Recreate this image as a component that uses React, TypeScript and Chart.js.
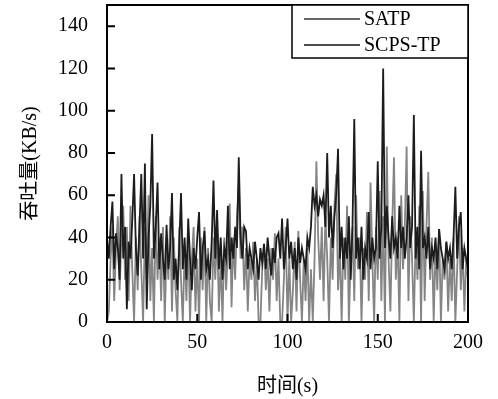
import React, { useEffect, useRef } from "react";
import { Chart, registerables } from "chart.js";

Chart.register(...registerables);

const seriesNames = ["SATP", "SCPS-TP"];
const xTicks = [0, 50, 100, 150, 200];
const yTicks = [0, 20, 40, 60, 80, 100, 120, 140];

const satp = [
  0, 5, 30, 45, 10, 35, 50, 15, 40, 55,
  20, 45, 10, 55, 25, 0, 40, 15, 50, 25,
  0, 45, 20, 60, 10, 35, 0, 50, 20, 40,
  10, 45, 0, 35, 20, 50, 5, 40, 15, 0,
  45, 20, 0, 35, 10, 40, 0, 30, 45, 5,
  30, 0, 40, 15, 45, 0, 35, 10, 0, 40,
  20, 45, 5, 30, 0, 40, 15, 35, 56, 7,
  40, 20, 50, 65, 30, 45, 15, 35, 5, 30,
  20, 38, 10, 30, 0, 0, 25, 37, 15, 30,
  5, 35, 20, 42, 10, 30, 0, 0, 20, 45,
  0, 30, 0, 15, 38, 5, 43, 20, 0, 30,
  10, 35, 0, 25, 0, 30, 76, 40, 20, 45,
  10, 50, 30, 0, 40, 20, 55, 70, 15, 35,
  0, 40, 20, 55, 0, 30, 45, 10, 60, 25,
  40, 0, 35, 20, 52, 10, 66, 30, 0, 45,
  20, 62, 10, 50, 0, 83, 30, 5, 45, 78,
  20, 40, 0, 60, 25, 45, 83, 10, 50, 30,
  0, 40, 20, 55, 0, 62, 10, 45, 71, 20,
  40, 0, 35, 15, 44, 0, 30, 20, 38, 5,
  30, 10, 40, 0, 25, 50, 15, 35, 5, 30,
  20,
];

const scpsTp = [
  40, 30, 45, 57, 25, 42, 35, 20, 70, 30,
  45, 6, 38, 30, 48, 70, 35, 22, 45, 70,
  30, 75, 6, 40, 55, 89, 30, 45, 66, 25,
  42, 30, 20, 46, 25, 35, 61, 20, 30, 15,
  35, 61, 25, 40, 20, 49, 30, 15, 35, 25,
  40, 52, 20, 35, 43, 25, 30, 20, 38, 67,
  30, 53, 25, 40, 20, 35, 30, 55, 25, 40,
  30, 45, 35, 78, 40, 30, 45, 43, 25, 35,
  30, 25, 38, 30, 20, 35, 28, 37, 25, 40,
  30, 22, 35, 28, 40, 42, 30, 49, 25, 35,
  49, 30, 38, 25, 35, 20, 40, 28, 35, 30,
  25, 40, 35, 45, 64, 55, 60, 50, 58, 55,
  60, 45, 80, 40, 55, 35, 50, 60, 82, 30,
  45, 25, 40, 30, 50, 20, 45, 96, 30, 40,
  25, 45, 20, 35, 30, 52, 25, 40, 30, 35,
  76, 30, 45, 120, 35, 55, 40, 30, 50, 35,
  40, 30, 55, 35, 45, 30, 40, 60, 35, 45,
  98, 30, 45, 25, 81, 35, 40, 30, 45, 25,
  35, 30, 40, 25, 44, 35, 30, 25, 38, 30,
  35, 25, 40, 64, 30, 45, 52, 25, 35, 30,
  25,
];

const times = satp.map((_, i) => i);

const FONT = "'Liberation Serif', 'Noto Sans CJK SC', serif";
const colors = ["#858585", "#1c1c1c"];

const framePlugin = {
  id: "frame",
  afterDraw(chart: any) {
    const { ctx, chartArea } = chart;
    const { left, right, top, bottom } = chartArea;
    const xs = chart.scales.x;
    const ys = chart.scales.y;
    ctx.save();
    ctx.strokeStyle = "#000";
    ctx.lineWidth = 2;
    ctx.beginPath();
    yTicks.forEach((v) => {
      const py = ys.getPixelForValue(v);
      ctx.moveTo(left, py);
      ctx.lineTo(left + 8, py);
    });
    xTicks.forEach((v) => {
      const px = xs.getPixelForValue(v);
      ctx.moveTo(px, bottom);
      ctx.lineTo(px, bottom - 8);
    });
    ctx.stroke();
    ctx.strokeRect(left, top, right - left, bottom - top);

    const lx = 292;
    const ly = top;
    const lw = right - lx;
    const lh = 53;
    ctx.fillStyle = "#fff";
    ctx.fillRect(lx, ly, lw, lh);
    ctx.lineWidth = 1.5;
    ctx.strokeRect(lx, ly, lw, lh);
    ctx.font = `20px ${FONT}`;
    ctx.textBaseline = "middle";
    ctx.textAlign = "left";
    chart.data.datasets.forEach((ds: any, i: number) => {
      const yy = ly + 14 + i * 26;
      ctx.strokeStyle = i === 0 ? "#333" : "#111";
      ctx.lineWidth = 1.5;
      ctx.beginPath();
      ctx.moveTo(lx + 12, yy);
      ctx.lineTo(lx + 68, yy);
      ctx.stroke();
      ctx.fillStyle = "#000";
      ctx.fillText(ds.label, lx + 72, yy + 1);
    });
    ctx.restore();
  },
};

export default function App() {
  const ref = useRef<HTMLCanvasElement>(null);
  useEffect(() => {
    if (!ref.current) return;
    const chart = new Chart(ref.current, {
      type: "line",
      data: {
        datasets: [
          {
            label: seriesNames[0],
            data: times.map((t, i) => ({ x: t, y: satp[i] })),
            borderColor: colors[0],
            borderWidth: 1.8,
            pointRadius: 0,
            tension: 0,
            order: 1,
          },
          {
            label: seriesNames[1],
            data: times.map((t, i) => ({ x: t, y: scpsTp[i] })),
            borderColor: colors[1],
            borderWidth: 1.8,
            pointRadius: 0,
            tension: 0,
            order: 0,
          },
        ],
      },
      options: {
        responsive: false,
        animation: false,
        layout: { padding: { top: 5, right: 30, left: 0, bottom: 0 } },
        plugins: { legend: { display: false }, tooltip: { enabled: false } },
        scales: {
          x: {
            type: "linear",
            min: 0,
            max: 200,
            grid: { display: false, drawTicks: false },
            border: { display: false },
            afterBuildTicks: (s: any) => {
              s.ticks = xTicks.map((v) => ({ value: v }));
            },
            afterFit: (s: any) => {
              s.height = 77;
              s.paddingLeft = 0;
              s.paddingRight = 0;
            },
            ticks: {
              padding: 9,
              color: "#000",
              font: { family: FONT, size: 20 },
              maxRotation: 0,
            },
            title: {
              display: true,
              text: "时间(s)",
              color: "#000",
              font: { family: FONT, size: 20 },
              padding: { top: 0, bottom: 0 },
            },
          },
          y: {
            min: 0,
            max: 150,
            grid: { display: false, drawTicks: false },
            border: { display: false },
            afterBuildTicks: (s: any) => {
              s.ticks = yTicks.map((v) => ({ value: v }));
            },
            afterFit: (s: any) => {
              s.width = 107;
              s.paddingTop = 0;
              s.paddingBottom = 0;
            },
            ticks: {
              padding: 19,
              color: "#000",
              font: { family: FONT, size: 20 },
            },
            title: {
              display: true,
              text: "吞吐量(KB/s)",
              color: "#000",
              font: { family: FONT, size: 20 },
              padding: { top: 19, bottom: 0 },
            },
          },
        },
      },
      plugins: [framePlugin],
    } as any);
    return () => chart.destroy();
  }, []);
  return (
    <div style={{ position: "absolute", left: 0, top: 0, width: 498, height: 399, background: "#fff" }}>
      <canvas ref={ref} width={498} height={399} />
    </div>
  );
}
